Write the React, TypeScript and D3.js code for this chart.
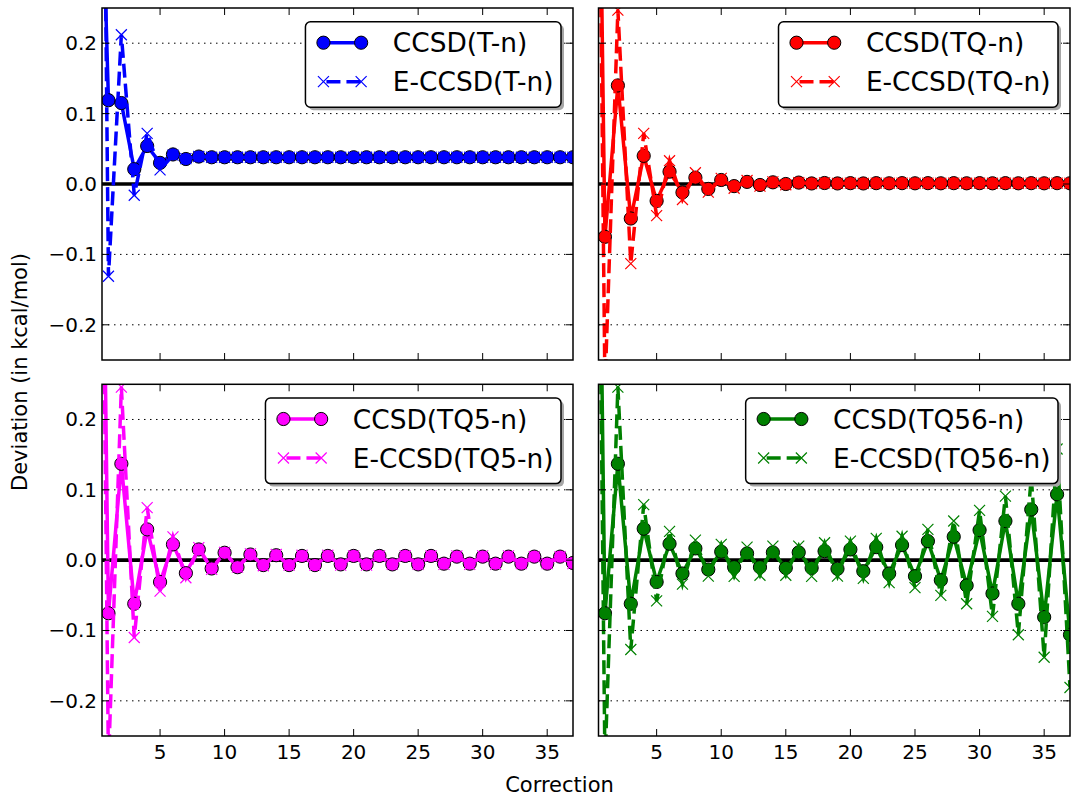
import React from "react";
import * as d3 from "d3";

// ---------- data ----------
const corrections = [0,1,2,3,4,5,6,7,8,9,10,11,12,13,14,15,16,17,18,19,20,21,22,23,24,25,26,27,28,29,30,31,32,33,34,35,36,37];

const ccsdT = [0.75,0.119,0.115,0.021,0.054,0.030,0.042,0.0355,0.039,0.038,0.038,0.038,0.038,0.038,0.038,0.038,0.038,0.038,0.038,0.038,0.038,0.038,0.038,0.038,0.038,0.038,0.038,0.038,0.038,0.038,0.038,0.038,0.038,0.038,0.038,0.038,0.038,0.038];
const eccsdT = [1.7,-0.131,0.212,-0.016,0.072,0.020,0.041,0.036,0.039,0.038,0.038,0.038,0.038,0.038,0.038,0.038,0.038,0.038,0.038,0.038,0.038,0.038,0.038,0.038,0.038,0.038,0.038,0.038,0.038,0.038,0.038,0.038,0.038,0.038,0.038,0.038,0.038,0.038];

const ccsdTQ = [1.3,-0.075,0.140,-0.049,0.040,-0.024,0.0175,-0.012,0.009,-0.007,0.0057,-0.003,0.003,-0.0014,0.0024,0.0,0.002,0.0008,0.0014,0.0008,0.0012,0.0008,0.0012,0.001,0.0012,0.001,0.0012,0.001,0.0012,0.001,0.0012,0.001,0.0012,0.001,0.0012,0.001,0.0012,0.001];
const eccsdTQ = [1.45,-0.29,0.247,-0.113,0.072,-0.045,0.033,-0.022,0.016,-0.0115,0.008,-0.006,0.005,-0.003,0.003,-0.001,0.002,0.0005,0.0015,0.0008,0.0012,0.0008,0.0012,0.001,0.0012,0.001,0.0012,0.001,0.0012,0.001,0.0012,0.001,0.0012,0.001,0.0012,0.001,0.0012,0.001];

const ccsdTQ5 = [1.35,-0.0755,0.137,-0.062,0.0437,-0.031,0.0224,-0.0185,0.0152,-0.0118,0.0105,-0.010,0.008,-0.007,0.007,-0.007,0.006,-0.007,0.006,-0.006,0.006,-0.006,0.006,-0.006,0.006,-0.006,0.006,-0.005,0.005,-0.005,0.005,-0.005,0.005,-0.005,0.005,-0.005,0.005,-0.004];
const eccsdTQ5 = [1.45,-0.29,0.246,-0.11,0.0746,-0.044,0.033,-0.025,0.0177,-0.013,0.011,-0.010,0.009,-0.008,0.008,-0.007,0.007,-0.007,0.007,-0.007,0.006,-0.007,0.006,-0.006,0.006,-0.006,0.006,-0.006,0.006,-0.006,0.006,-0.006,0.006,-0.005,0.005,-0.005,0.005,-0.005];

const ccsdTQ56 = [1.35,-0.0755,0.137,-0.062,0.0447,-0.031,0.0233,-0.019,0.0167,-0.0133,0.012,-0.010,0.0095,-0.010,0.011,-0.011,0.011,-0.011,0.0128,-0.0123,0.0152,-0.0157,0.0185,-0.019,0.0214,-0.0228,0.027,-0.0285,0.0333,-0.036,0.0427,-0.0474,0.0556,-0.062,0.072,-0.081,0.0936,-0.106];
const eccsdTQ56 = [1.45,-0.29,0.246,-0.127,0.079,-0.058,0.041,-0.034,0.0285,-0.0228,0.0224,-0.023,0.0185,-0.0215,0.020,-0.0215,0.020,-0.023,0.0247,-0.0228,0.027,-0.026,0.031,-0.032,0.034,-0.039,0.0437,-0.050,0.0556,-0.062,0.0708,-0.080,0.091,-0.106,0.118,-0.138,0.158,-0.181];

const xTicks = [5, 10, 15, 20, 25, 30, 35];
const yTicks = [-0.2, -0.1, 0.0, 0.1, 0.2];

const panels = [
  { id: "p1", color: "#0000ff", a: ccsdT, b: eccsdT, labels: ["CCSD(T-n)", "E-CCSD(T-n)"], col: 0, row: 0 },
  { id: "p2", color: "#ff0000", a: ccsdTQ, b: eccsdTQ, labels: ["CCSD(TQ-n)", "E-CCSD(TQ-n)"], col: 1, row: 0 },
  { id: "p3", color: "#ff00ff", a: ccsdTQ5, b: eccsdTQ5, labels: ["CCSD(TQ5-n)", "E-CCSD(TQ5-n)"], col: 0, row: 1 },
  { id: "p4", color: "#008000", a: ccsdTQ56, b: eccsdTQ56, labels: ["CCSD(TQ56-n)", "E-CCSD(TQ56-n)"], col: 1, row: 1 },
];

// ---------- layout ----------
const W = 1071, H = 797;
const colX = [[102, 573], [598.5, 1070]];
const rowY = [[8, 360], [384.3, 736]];
const FONT = "DejaVu Sans, Bitstream Vera Sans, sans-serif";
const TICK_FS = 20;
const LEG_FS = 26.4;
const DASH = "14,6";

function measure(text: string, size: number) {
  const c = document.createElement("canvas").getContext("2d");
  if (!c) return text.length * size * 0.6;
  c.font = `${size}px "DejaVu Sans"`;
  return c.measureText(text).width;
}

function fmt(v: number) {
  const s = Math.abs(v).toFixed(1);
  return v < -1e-9 ? "\u2212" + s : s;
}

function XMark({ x, y, color, s = 5.5 }: any) {
  return (
    <path d={`M${x - s},${y - s}L${x + s},${y + s}M${x - s},${y + s}L${x + s},${y - s}`} stroke={color} strokeWidth={1.2} fill="none" />
  );
}

function Panel({ p }: any) {
  const [x0, x1] = colX[p.col];
  const [y0, y1] = rowY[p.row];
  const xs = d3.scaleLinear().domain([0.5, 37]).range([x0, x1]);
  const ys = d3.scaleLinear().domain([-0.25, 0.25]).range([y1, y0]);
  const line = d3.line<number>().x((_, i) => xs(corrections[i])).y((d) => ys(d));
  const clip = `clip-${p.id}`;

  // legend
  const w = Math.max(measure(p.labels[0], LEG_FS), measure(p.labels[1], LEG_FS));
  const boxR = x1 - 12;
  const textX = boxR - 7.5 - w;
  const mR = textX - 31.7;
  const mL = mR - 37.7;
  const boxL = mL - 18;
  const boxT = y0 + 13.7;
  const boxH = 85.6;
  const r1 = y0 + 34.7;
  const r2 = y0 + 73.7;

  return (
    <g>
      <defs>
        <clipPath id={clip}>
          <rect x={x0} y={y0} width={x1 - x0} height={y1 - y0} />
        </clipPath>
      </defs>
      <rect x={x0} y={y0} width={x1 - x0} height={y1 - y0} fill="#fff" />
      {/* grid */}
      {yTicks.filter((t) => t !== 0).map((t) => (
        <line key={t} x1={x0} x2={x1} y1={ys(t)} y2={ys(t)} stroke="#000" strokeWidth={1} strokeDasharray="1.5,4.5" />
      ))}
      <g clipPath={`url(#${clip})`}>
        <line x1={x0} x2={x1} y1={ys(0)} y2={ys(0)} stroke="#000" strokeWidth={3.6} />
        <path d={line(p.a) || ""} fill="none" stroke={p.color} strokeWidth={3.5} strokeLinejoin="miter" />
        {p.a.map((v: number, i: number) => (
          <circle key={"c" + i} cx={xs(corrections[i])} cy={ys(v)} r={6.6} fill={p.color} stroke="#000" strokeWidth={1} />
        ))}
        <path d={line(p.b) || ""} fill="none" stroke={p.color} strokeWidth={3.5} strokeDasharray={DASH} />
        {p.b.map((v: number, i: number) => (
          <XMark key={"x" + i} x={xs(corrections[i])} y={ys(v)} color={p.color} />
        ))}
      </g>
      {/* ticks */}
      {xTicks.map((t) => (
        <g key={"xt" + t}>
          <line x1={xs(t)} x2={xs(t)} y1={y1} y2={y1 - 7} stroke="#000" strokeWidth={1} />
          <line x1={xs(t)} x2={xs(t)} y1={y0} y2={y0 + 7} stroke="#000" strokeWidth={1} />
          {p.row === 1 && (
            <text x={xs(t)} y={y1 + 23} textAnchor="middle" fontSize={TICK_FS} fontFamily={FONT}>{t}</text>
          )}
        </g>
      ))}
      {yTicks.map((t) => (
        <g key={"yt" + t}>
          <line x1={x0} x2={x0 + 7} y1={ys(t)} y2={ys(t)} stroke="#000" strokeWidth={1} />
          <line x1={x1} x2={x1 - 7} y1={ys(t)} y2={ys(t)} stroke="#000" strokeWidth={1} />
          {p.col === 0 && (
            <text x={x0 - 5} y={ys(t) + 7} textAnchor="end" fontSize={TICK_FS} fontFamily={FONT}>{fmt(t)}</text>
          )}
        </g>
      ))}
      <rect x={x0} y={y0} width={x1 - x0} height={y1 - y0} fill="none" stroke="#000" strokeWidth={1.5} />
      {/* legend */}
      <rect x={boxL + 3} y={boxT + 3} width={boxR - boxL} height={boxH} rx={5} fill="#a6a6a6" />
      <rect x={boxL} y={boxT} width={boxR - boxL} height={boxH} rx={5} fill="#fff" stroke="#000" strokeWidth={1.5} />
      <line x1={mL} x2={mR} y1={r1} y2={r1} stroke={p.color} strokeWidth={3.5} />
      <circle cx={mL} cy={r1} r={6.6} fill={p.color} stroke="#000" strokeWidth={1} />
      <circle cx={mR} cy={r1} r={6.6} fill={p.color} stroke="#000" strokeWidth={1} />
      <line x1={mL} x2={mR} y1={r2} y2={r2} stroke={p.color} strokeWidth={3.5} strokeDasharray={DASH} strokeDashoffset={-3} />
      <XMark x={mL} y={r2} color={p.color} />
      <XMark x={mR} y={r2} color={p.color} />
      <text x={textX} y={r1 + 9.5} fontSize={LEG_FS} fontFamily={FONT}>{p.labels[0]}</text>
      <text x={textX} y={r2 + 9.5} fontSize={LEG_FS} fontFamily={FONT}>{p.labels[1]}</text>
    </g>
  );
}

export default function App() {
  return (
    <svg width={W} height={H} style={{ position: "absolute", left: 0, top: 0, background: "#fff" }}>
      <rect x={0} y={0} width={W} height={H} fill="#fff" />
      {panels.map((p) => (
        <Panel key={p.id} p={p} />
      ))}
      <text x={559.5} y={792} textAnchor="middle" fontSize={21} fontFamily={FONT}>Correction</text>
      <text transform="translate(27,372) rotate(-90)" textAnchor="middle" fontSize={21} fontFamily={FONT}>Deviation (in kcal/mol)</text>
    </svg>
  );
}
